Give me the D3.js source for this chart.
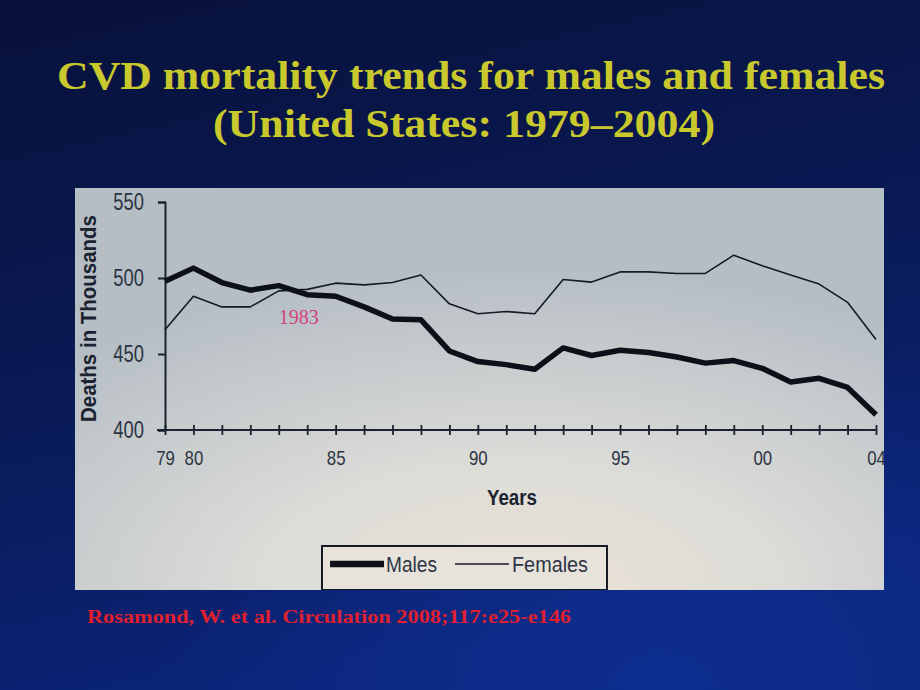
<!DOCTYPE html>
<html>
<head>
<meta charset="utf-8">
<script src="https://cdn.jsdelivr.net/npm/d3@7"></script>
<style>
  html, body { margin: 0; padding: 0; background: #0a1642; }
  svg { display: block; }
</style>
</head>
<body>
<svg id="chart" width="920" height="690"></svg>
<script>
// ---- Data ----
const years = [1979,1980,1981,1982,1983,1984,1985,1986,1987,1988,1989,1990,1991,1992,1993,1994,1995,1996,1997,1998,1999,2000,2001,2002,2003,2004];
const males = [497.8,506.5,497,492,495,489,488,481,473,472.5,452,445,443,440,454,449,452.5,451,448,444,445.7,440.6,431.6,434,428,410];
const females = [466,488,481,481,491.5,492.5,496.6,495.5,497,502,483,476.5,478,476.5,499,497.3,504,504,503,503,515,508,502,496,484,459.6];
const xTickValues = [1979,1980,1985,1990,1995,2000,2004];
const xTickLabels = ["79","80","85","90","95","00","04"];
const yTickValues = [400,450,500,550];
const seriesNames = ["Males","Females"];
const titleLines = ["CVD mortality trends for males and females","(United States: 1979\u20132004)"];
const annotation = {year: 1983, text: "1983"};
const citation = "Rosamond, W. et al. Circulation 2008;117:e25-e146";

const svg = d3.select("#chart");
const defs = svg.append("defs");

// background gradients
const bg = defs.append("linearGradient").attr("id","bg").attr("x1",0).attr("y1",0).attr("x2",0.3).attr("y2",1);
bg.append("stop").attr("offset","0%").attr("stop-color","#08113a");
bg.append("stop").attr("offset","55%").attr("stop-color","#0a1a56");
bg.append("stop").attr("offset","100%").attr("stop-color","#0b2478");
svg.append("rect").attr("width",920).attr("height",690).attr("fill","url(#bg)");
const bg2 = defs.append("radialGradient").attr("id","bg2").attr("cx",0.72).attr("cy",1).attr("r",0.55);
bg2.append("stop").attr("offset","0%").attr("stop-color","#1038a8").attr("stop-opacity",0.5);
bg2.append("stop").attr("offset","100%").attr("stop-color","#1038a8").attr("stop-opacity",0);
svg.append("rect").attr("width",920).attr("height",690).attr("fill","url(#bg2)");

// panel
const panel = {x:75, y:188, w:809, h:402};
const pg = defs.append("radialGradient").attr("id","pg").attr("cx",0.55).attr("cy",1.0).attr("r",0.8);
pg.append("stop").attr("offset","0%").attr("stop-color","#ece2d4");
pg.append("stop").attr("offset","40%").attr("stop-color","#dcdcd8");
pg.append("stop").attr("offset","100%").attr("stop-color","#b6bec5");
svg.append("rect").attr("x",panel.x).attr("y",panel.y).attr("width",panel.w).attr("height",panel.h).attr("fill","url(#pg)");
defs.append("clipPath").attr("id","pclip").append("rect")
  .attr("x",panel.x).attr("y",panel.y).attr("width",panel.w).attr("height",panel.h);

const g = svg.append("g").attr("clip-path","url(#pclip)");

function narrow(sel, factor) {
  sel.each(function() {
    const w = this.getComputedTextLength();
    d3.select(this).attr("textLength", w*factor).attr("lengthAdjust","spacingAndGlyphs");
  });
}

// scales
const x = d3.scaleLinear().domain([1979,2004]).range([165,876]);
const y = d3.scaleLinear().domain([400,550]).range([430,202]);
const inkColor = "#1b2230";
const labelColor = "#2c3444";
const sans = "'Liberation Sans Narrow','Arial Narrow','Liberation Sans',Arial,sans-serif";

// y axis
const yAxis = g.append("g").attr("transform",`translate(${x(1979)},0)`)
  .call(d3.axisLeft(y).tickValues(yTickValues).tickSize(7).tickPadding(14).tickFormat(d3.format("d")));
yAxis.select(".domain").attr("stroke",inkColor).attr("stroke-width",2);
yAxis.selectAll(".tick line").attr("stroke",inkColor).attr("stroke-width",2);
yAxis.selectAll(".tick text").attr("fill",labelColor).style("font-family",sans).style("font-size","23px");
narrow(yAxis.selectAll(".tick text"), 0.8);

// x axis ticks (cross the axis)
const xTicks = g.append("g").attr("transform",`translate(0,${y(400)-5})`)
  .call(d3.axisBottom(x).tickValues(years).tickSize(10).tickFormat(""));
xTicks.select(".domain").remove();
xTicks.selectAll(".tick line").attr("stroke",inkColor).attr("stroke-width",1.8);
g.append("line").attr("x1",x(1979)-8).attr("x2",x(2004)).attr("y1",y(400)).attr("y2",y(400))
  .attr("stroke",inkColor).attr("stroke-width",2);

// x labels
const xLab = g.append("g").attr("transform",`translate(0,${y(400)})`)
  .call(d3.axisBottom(x).tickValues(xTickValues).tickSize(0).tickPadding(20)
    .tickFormat((d,i) => xTickLabels[xTickValues.indexOf(d)]));
xLab.select(".domain").remove();
xLab.selectAll(".tick text").attr("fill",labelColor).style("font-family",sans).style("font-size","21px");
narrow(xLab.selectAll(".tick text"), 0.8);

// axis titles
const yt = g.append("text").attr("transform",`translate(96,${(215+422)/2}) rotate(-90)`)
  .attr("text-anchor","middle").attr("fill",inkColor)
  .style("font-family",sans).style("font-size","22px").style("font-weight","bold")
  .text("Deaths in Thousands");
yt.attr("textLength",207).attr("lengthAdjust","spacingAndGlyphs");
g.append("text").attr("x",512).attr("y",505).attr("text-anchor","middle").attr("fill",inkColor)
  .style("font-family",sans).style("font-size","22px").style("font-weight","bold")
  .attr("textLength",50).attr("lengthAdjust","spacingAndGlyphs").text("Years");

// lines
const line = d3.line().x((d,i) => x(years[i])).y(d => y(d));
g.append("path").datum(females).attr("d",line).attr("fill","none")
  .attr("stroke","#141a26").attr("stroke-width",1.6).attr("stroke-linejoin","round");
g.append("path").datum(males).attr("d",line).attr("fill","none")
  .attr("stroke","#0d1018").attr("stroke-width",5.5).attr("stroke-linejoin","round");

// annotation
g.append("text").attr("x",x(annotation.year)+20).attr("y",324).attr("text-anchor","middle")
  .attr("fill","#d2447e").style("font-family","'Liberation Serif','Times New Roman',serif")
  .style("font-size","20px").attr("textLength",40).attr("lengthAdjust","spacingAndGlyphs")
  .text(annotation.text);

// legend
const lg = g.append("g");
lg.append("rect").attr("x",322).attr("y",546).attr("width",285).attr("height",44)
  .attr("fill","#e8e3da").attr("stroke","#151a24").attr("stroke-width",2);
lg.append("line").attr("x1",330).attr("x2",384).attr("y1",564).attr("y2",564)
  .attr("stroke","#0d1018").attr("stroke-width",6.5);
lg.append("text").attr("x",386).attr("y",572).attr("fill",labelColor)
  .style("font-family",sans).style("font-size","22px")
  .attr("textLength",51).attr("lengthAdjust","spacingAndGlyphs").text(seriesNames[0]);
lg.append("line").attr("x1",455).attr("x2",509).attr("y1",564).attr("y2",564)
  .attr("stroke","#141a26").attr("stroke-width",1.6);
lg.append("text").attr("x",512).attr("y",572).attr("fill",labelColor)
  .style("font-family",sans).style("font-size","22px")
  .attr("textLength",76).attr("lengthAdjust","spacingAndGlyphs").text(seriesNames[1]);

// title
const serif = "'Liberation Serif','Times New Roman',serif";
svg.append("text").attr("x",471).attr("y",89).attr("text-anchor","middle").attr("fill","#c9c82c")
  .style("font-family",serif).style("font-size","41px").style("font-weight","bold")
  .attr("textLength",828).attr("lengthAdjust","spacingAndGlyphs").text(titleLines[0]);
svg.append("text").attr("x",464).attr("y",137).attr("text-anchor","middle").attr("fill","#c9c82c")
  .style("font-family",serif).style("font-size","41px").style("font-weight","bold")
  .attr("textLength",502).attr("lengthAdjust","spacingAndGlyphs").text(titleLines[1]);

// citation
svg.append("text").attr("x",87).attr("y",623).attr("fill","#e0202e")
  .style("font-family",serif).style("font-size","19px").style("font-weight","bold")
  .attr("textLength",484).attr("lengthAdjust","spacingAndGlyphs").text(citation);
</script>
</body>
</html>
